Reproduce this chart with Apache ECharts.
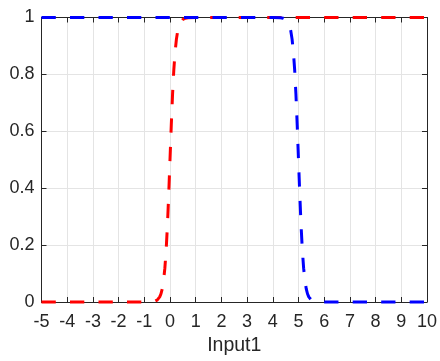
<!DOCTYPE html>
<html>
<head>
<meta charset="utf-8">
<script src="https://cdn.jsdelivr.net/npm/echarts@6/dist/echarts.min.js"></script>
<style>
  html, body { margin: 0; padding: 0; background: #fff; }
  #chart { width: 440px; height: 361px; }
</style>
</head>
<body>
<div id="chart"></div>
<script>
// values
const redX = [-5, -1, -0.7, -0.6, -0.5, -0.45, -0.4, -0.35, -0.3, -0.25, -0.2, -0.15, -0.1, -0.05, 0,
  0.05, 0.1, 0.15, 0.2, 0.25, 0.3, 0.35, 0.4, 0.45, 0.5, 0.6, 0.7, 1, 10];
const redY = [0, 0.00005, 0.0009, 0.0025, 0.0067, 0.011, 0.018, 0.029, 0.047, 0.076, 0.119, 0.182, 0.269, 0.378, 0.5,
  0.622, 0.731, 0.818, 0.881, 0.924, 0.953, 0.971, 0.982, 0.989, 0.993, 0.9975, 0.9991, 0.99995, 1];

const blueX = [-5, 4, 4.3, 4.4, 4.5, 4.55, 4.6, 4.65, 4.7, 4.75, 4.8, 4.85, 4.9, 4.95, 5,
  5.05, 5.1, 5.15, 5.2, 5.25, 5.3, 5.35, 5.4, 5.45, 5.5, 5.6, 5.7, 6, 10];
const blueY = [1, 0.99995, 0.9991, 0.9975, 0.9933, 0.989, 0.982, 0.971, 0.953, 0.924, 0.881, 0.818, 0.731, 0.622, 0.5,
  0.378, 0.269, 0.182, 0.119, 0.076, 0.047, 0.029, 0.018, 0.011, 0.0067, 0.0025, 0.0009, 0.00005, 0];

const xMin = -5, xMax = 10, xStep = 1;
const yMin = 0, yMax = 1, yStep = 0.2;
const xName = 'Input1';

const TEXT = '#262626';
const GRID = '#e4e4e4';
const FONT = '"Liberation Sans", Arial, sans-serif';

function pairs(xs, ys) {
  return xs.map((x, i) => [x, ys[i]]);
}

// top / right axes only close the box (ticks, no labels)
const frameAxis = {
  axisLine: { show: true, onZero: false, lineStyle: { color: TEXT, width: 1 } },
  axisTick: { show: true, inside: true, length: 5, lineStyle: { color: TEXT } },
  axisLabel: { show: false },
  splitLine: { show: false },
};

const chart = echarts.init(document.getElementById('chart'), null, { renderer: 'canvas' });
chart.setOption({
  animation: false,
  backgroundColor: '#fff',
  grid: { left: 41.5, right: 12.5, top: 17.5, bottom: 56, containLabel: false },
  xAxis: [
    {
      type: 'value', min: xMin, max: xMax, interval: xStep, position: 'bottom',
      name: xName, nameLocation: 'middle', nameGap: 34,
      nameTextStyle: { color: TEXT, fontSize: 19.5, fontFamily: FONT },
      axisLine: { show: true, onZero: false, lineStyle: { color: TEXT, width: 1 } },
      axisTick: { show: true, inside: true, length: 5, lineStyle: { color: TEXT } },
      axisLabel: { color: TEXT, fontSize: 18, fontFamily: FONT, margin: 11 },
      splitLine: { show: true, lineStyle: { color: GRID, width: 1 } },
    },
    Object.assign({ type: 'value', min: xMin, max: xMax, interval: xStep, position: 'top' }, frameAxis),
  ],
  yAxis: [
    {
      type: 'value', min: yMin, max: yMax, interval: yStep, position: 'left',
      axisLine: { show: true, onZero: false, lineStyle: { color: TEXT, width: 1 } },
      axisTick: { show: true, inside: true, length: 5, lineStyle: { color: TEXT } },
      axisLabel: { color: TEXT, fontSize: 18, fontFamily: FONT, margin: 7 },
      splitLine: { show: true, lineStyle: { color: GRID, width: 1 } },
    },
    Object.assign({ type: 'value', min: yMin, max: yMax, interval: yStep, position: 'right' }, frameAxis),
  ],
  series: [
    {
      type: 'line', data: pairs(redX, redY), showSymbol: false, clip: false,
      lineStyle: { color: '#ff0000', width: 3, type: [14.3, 14.2] },
    },
    {
      type: 'line', data: pairs(blueX, blueY), showSymbol: false, clip: false,
      lineStyle: { color: '#0000ff', width: 3, type: [14.3, 14.2] },
    },
  ],
});
</script>
</body>
</html>
